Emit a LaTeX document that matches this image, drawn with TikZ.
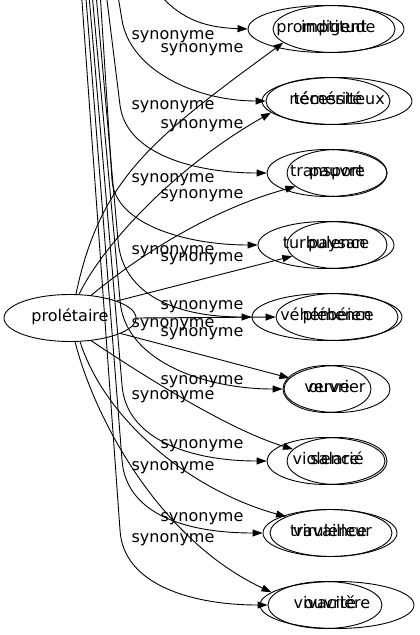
\documentclass[tikz,border=0pt]{standalone}
\usepackage{fontspec}
\setmainfont{DejaVu Sans}
\usetikzlibrary{shapes.geometric,arrows.meta}
\begin{document}
\begin{tikzpicture}[x=1bp,y=-1bp,
  word/.style={draw,ellipse,line width=0.9bp,inner sep=0pt,minimum height=47bp,text height=11bp,text depth=3.5bp,font=\fontsize{16bp}{19bp}\selectfont},
  lbl/.style={inner sep=0pt,text height=8.5bp,text depth=3.5bp,font=\fontsize{16bp}{19bp}\selectfont},
  edge/.style={line width=0.9bp,-{Triangle[length=10bp,width=7bp]}}]
\useasboundingbox (0,0) rectangle (419,635);

\node[word,minimum width=132bp] (proletaire) at (70,318) {prolétaire};

\node[word,minimum width=156bp] (promptitude) at (326,29) {promptitude};
\node[word,minimum width=122bp] (indigent) at (334,29) {indigent};
\node[word,minimum width=124bp] (temerite) at (328,101) {témérité};
\node[word,minimum width=150bp] (necessiteux) at (337,101) {nécessiteux};
\node[word,minimum width=120bp] (transport) at (327,173) {transport};
\node[word,minimum width=100bp] (pauvre) at (337,173) {pauvre};
\node[word,minimum width=136bp] (turbulence) at (326,245) {turbulence};
\node[word,minimum width=100bp] (paysan) at (337,245) {paysan};
\node[word,minimum width=150bp] (vehemence) at (327,317) {véhémence};
\node[word,minimum width=122bp] (plebeien) at (337,317) {plébéien};
\node[word,minimum width=88bp] (verve) at (327,389) {verve};
\node[word,minimum width=106bp] (ouvrier) at (337,389) {ouvrier};
\node[word,minimum width=118bp] (violence) at (326,461) {violence};
\node[word,minimum width=100bp] (salarie) at (337,461) {salarié};
\node[word,minimum width=134bp] (virulence) at (330,533) {virulence};
\node[word,minimum width=122bp] (travailleur) at (331,533) {travailleur};
\node[word,minimum width=114bp] (vivacite) at (325,605) {vivacité};
\node[word,minimum width=154bp] (ouvriere) at (337,605) {ouvrière};

\coordinate (topA1) at (135,-40);
\coordinate (topA2) at (112,-40);
\coordinate (topA3) at (102,-40);
\coordinate (topA4) at (98,-40);
\coordinate (topA5) at (93,-40);
\coordinate (topA6) at (89,-40);
\coordinate (topA7) at (86,-40);
\coordinate (topA8) at (83,-40);
\coordinate (topA9) at (79,-40);

\draw[edge] (topA1) .. controls (165,10) and (190,27) .. (promptitude.west);
\draw[edge] (topA2) -- (122,20) .. controls +(8,50) and +(-70,0) .. (temerite.west);
\draw[edge] (topA3) -- (120,105) .. controls +(6,50) and +(-70,0) .. (transport.west);
\draw[edge] (topA4) -- (112,180) .. controls +(3,45) and +(-70,0) .. (turbulence.west);
\draw[edge] (topA5) -- (118,240) .. controls +(4,55) and +(-75,0) .. (vehemence.west);
\draw[edge] (topA6) -- (120,300) .. controls +(4,60) and +(-80,0) .. (verve.west);
\draw[edge] (topA7) -- (122,385) .. controls +(4,55) and +(-75,0) .. (violence.west);
\draw[edge] (topA8) -- (122,460) .. controls +(4,55) and +(-75,0) .. (virulence.west);
\draw[edge] (topA9) -- (120,530) .. controls +(3,55) and +(-75,0) .. (vivacite.west);

\draw[edge] (proletaire.76) .. controls (100,180) and (150,140) .. (indigent.195);
\draw[edge] (proletaire.69) .. controls (100,250) and (170,170) .. (necessiteux.190);
\draw[edge] (proletaire.47) .. controls (140,255) and (210,210) .. (pauvre.198);
\draw[edge] (proletaire.20) -- (paysan.194);
\draw[edge] (proletaire.east) -- (plebeien.west);
\draw[edge] (proletaire.-17) -- (ouvrier.167);
\draw[edge] (proletaire.-47) .. controls (150,380) and (230,430) .. (salarie.165);
\draw[edge] (proletaire.-67) .. controls (105,420) and (190,490) .. (travailleur.160);
\draw[edge] (proletaire.-78) .. controls (95,420) and (160,540) .. (ouvriere.169);

\node[lbl] (lblA2) at (173,37) {synonyme};
\node[lbl] (lblA3) at (173,107) {synonyme};
\node[lbl] (lblA4) at (173,180) {synonyme};
\node[lbl] (lblA5) at (173,252) {synonyme};
\node[lbl] (lblA6) at (173,325) {synonyme};
\node[lbl] (lblA7) at (173,397) {synonyme};
\node[lbl] (lblA8) at (173,468) {synonyme};
\node[lbl] (lblA9) at (173,540) {synonyme};
\node[lbl] (lblB1) at (202,50) {synonyme};
\node[lbl] (lblB2) at (202,126) {synonyme};
\node[lbl] (lblB3) at (202,196) {synonyme};
\node[lbl] (lblB4) at (202,259) {synonyme};
\node[lbl] (lblB5) at (202,307) {synonyme};
\node[lbl] (lblB6) at (202,334) {synonyme};
\node[lbl] (lblB7) at (202,382) {synonyme};
\node[lbl] (lblB8) at (202,446) {synonyme};
\node[lbl] (lblB9) at (202,519) {synonyme};
\end{tikzpicture}
\end{document}
